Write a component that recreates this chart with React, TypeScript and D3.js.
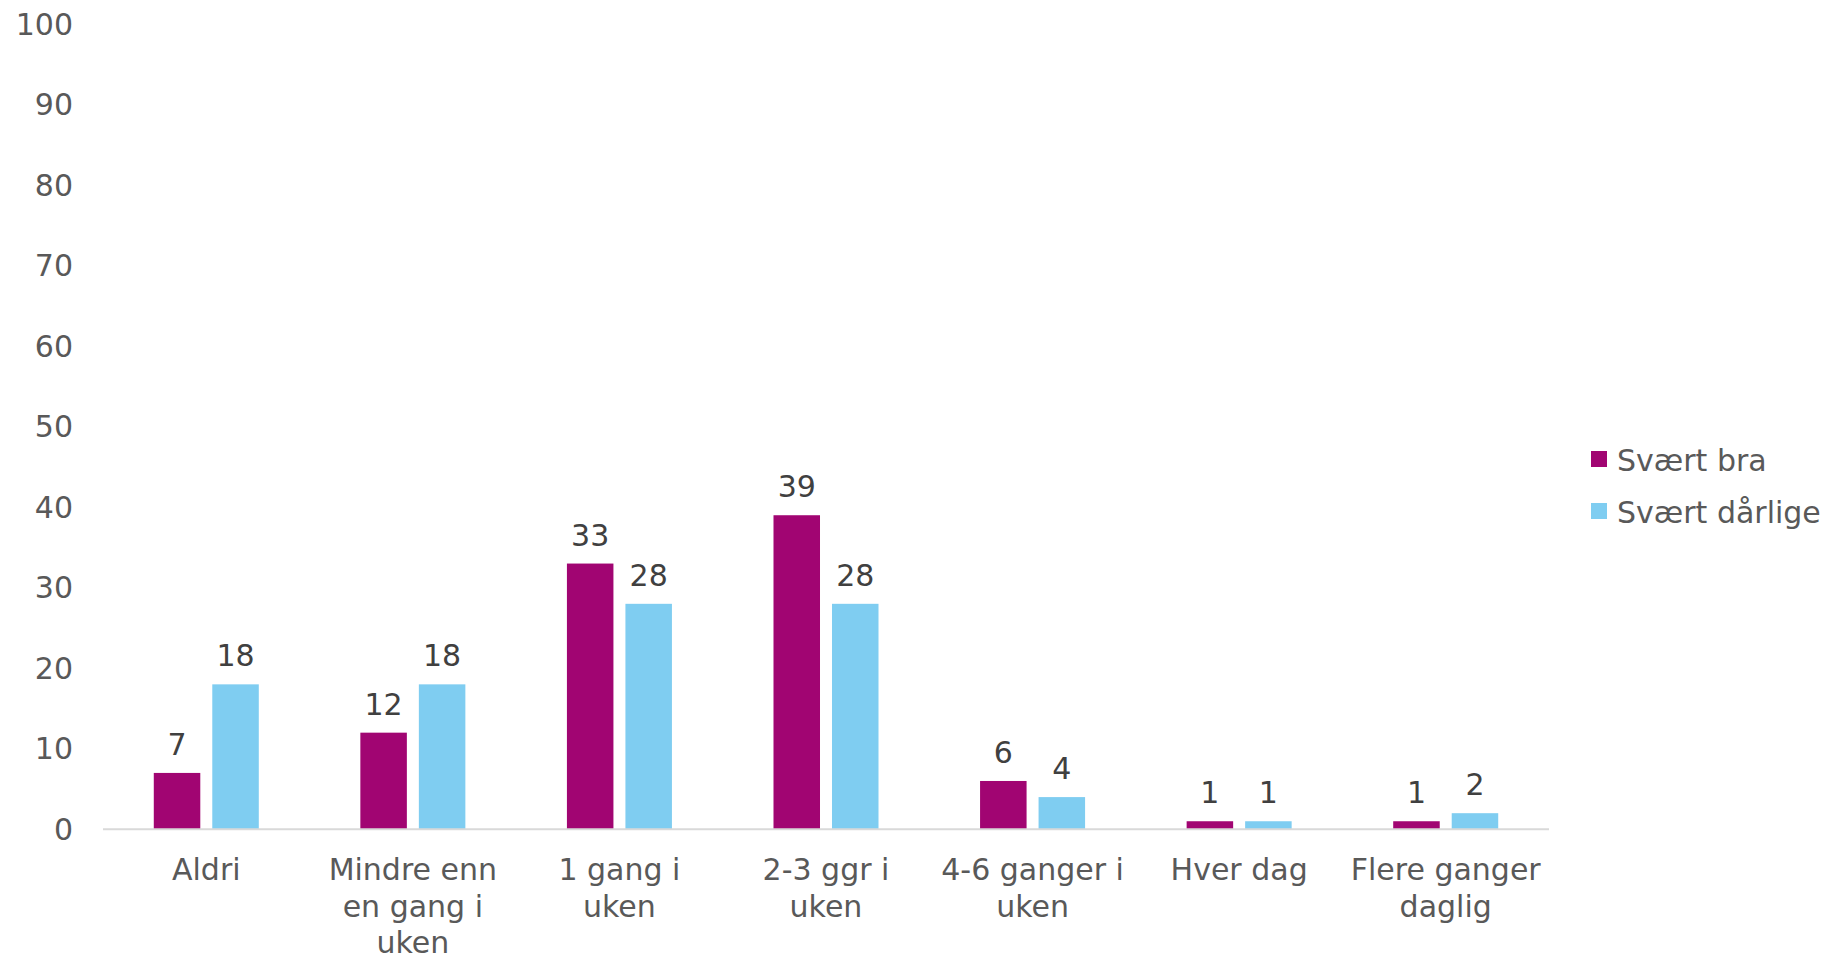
import React from 'react';
import * as d3 from 'd3';

const categories = [
  'Aldri',
  'Mindre enn\nen gang i\nuken',
  '1 gang i\nuken',
  '2-3 ggr i\nuken',
  '4-6 ganger i\nuken',
  'Hver dag',
  'Flere ganger\ndaglig',
];
const seriesNames = ['Svært bra', 'Svært dårlige'];
const veryGood = [7, 12, 33, 39, 6, 1, 1];
const veryPoor = [18, 18, 28, 28, 4, 1, 2];
const yTicks = [0, 10, 20, 30, 40, 50, 60, 70, 80, 90, 100];

const colors = ['#A10572', '#7FCDF1'];
const font = '"DejaVu Sans", Verdana, sans-serif';
const fs = 30;

export default function App() {
  const width = 1832;
  const height = 957;
  const left = 103;
  const right = 1549;
  const top = 24;
  const bottom = 829.3;

  const values = [veryGood, veryPoor];

  const x = d3.scaleBand().domain(categories).range([left, right]).padding(0);
  const xs = d3
    .scaleBand()
    .domain(seriesNames)
    .range([0, x.bandwidth()])
    .paddingInner(0.205)
    .paddingOuter(0.868);
  const y = d3.scaleLinear().domain([0, 100]).range([bottom, top]);
  const color = d3.scaleOrdinal<string, string>().domain(seriesNames).range(colors);

  return (
    <svg
      width={width}
      height={height}
      style={{ position: 'absolute', left: 0, top: 0, background: '#fff' }}
      fontFamily={font}
    >
      {/* y tick labels */}
      {yTicks.map(t => (
        <text
          key={t}
          x={73}
          y={y(t)}
          textAnchor="end"
          dominantBaseline="central"
          fontSize={fs}
          fill="#595959"
        >
          {t}
        </text>
      ))}

      {/* bars */}
      {seriesNames.map((s, si) => (
        <g key={s}>
          {categories.map((c, ci) => {
            const v = values[si][ci];
            const bx = (x(c) as number) + (xs(s) as number);
            return (
              <g key={c}>
                <rect
                  x={bx}
                  y={y(v)}
                  width={xs.bandwidth()}
                  height={bottom - y(v)}
                  fill={color(s)}
                />
                <text
                  x={bx + xs.bandwidth() / 2}
                  y={y(v) - 18}
                  textAnchor="middle"
                  fontSize={fs}
                  fill="#404040"
                >
                  {v}
                </text>
              </g>
            );
          })}
        </g>
      ))}

      {/* x axis */}
      <line x1={left} x2={right} y1={bottom} y2={bottom} stroke="#D9D9D9" strokeWidth={2} />
      {categories.map(c => (
        <text
          key={c}
          x={(x(c) as number) + x.bandwidth() / 2}
          y={880}
          textAnchor="middle"
          fontSize={fs}
          fill="#595959"
        >
          {c.split('\n').map((line, i) => (
            <tspan key={i} x={(x(c) as number) + x.bandwidth() / 2} dy={i === 0 ? 0 : 36.5}>
              {line}
            </tspan>
          ))}
        </text>
      ))}

      {/* legend */}
      {seriesNames.map((s, i) => (
        <g key={s} transform={`translate(1591, ${451 + i * 52})`}>
          <rect width={16} height={16} fill={color(s)} />
          <text x={26} y={9} dominantBaseline="central" fontSize={fs} fill="#595959">
            {s}
          </text>
        </g>
      ))}
    </svg>
  );
}
